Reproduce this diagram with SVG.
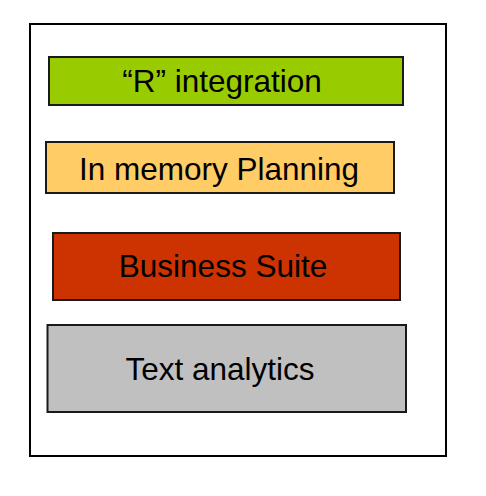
<svg xmlns="http://www.w3.org/2000/svg" width="486" height="496" viewBox="0 0 486 496">
<style>
.box{stroke:#1a1a1a;stroke-width:2}
.lbl{font-family:"Liberation Sans",Arial,sans-serif;font-size:31.5px;fill:#000;text-anchor:middle}
</style>
<rect width="486" height="496" fill="#fff"/>
<rect id="frame" x="30" y="24" width="416" height="432" fill="none" stroke="#000" stroke-width="2"/>
<g id="r-integration">
<rect class="box" x="49" y="57" width="354" height="48" fill="#99cc00"/>
<text class="lbl" x="222" y="92">“R” integration</text>
</g>
<g id="in-memory-planning">
<rect class="box" x="46" y="142" width="348" height="51" fill="#ffcc66"/>
<text class="lbl" x="219" y="180">In memory Planning</text>
</g>
<g id="business-suite">
<rect class="box" x="53" y="233" width="347" height="67" fill="#cc3300"/>
<text class="lbl" x="223" y="277">Business Suite</text>
</g>
<g id="text-analytics">
<rect class="box" x="47.5" y="325" width="358.5" height="87" fill="#c0c0c0"/>
<text class="lbl" x="220" y="380">Text analytics</text>
</g>
<g id="connectors"/>
</svg>
